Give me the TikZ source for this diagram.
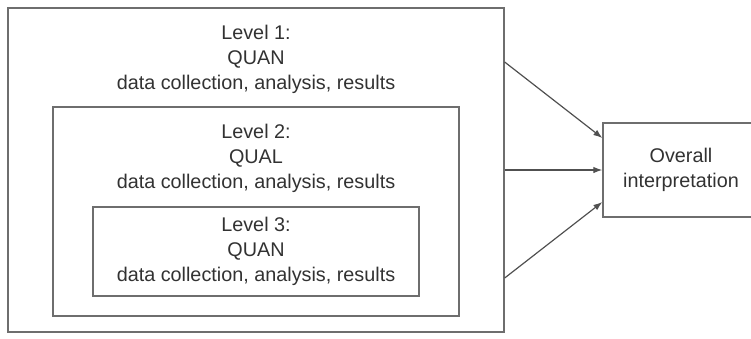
\documentclass[tikz,border=0pt]{standalone}
\usepackage{fontspec}
\setmainfont{Liberation Sans}
\usetikzlibrary{positioning}
\usetikzlibrary{calc}
\usetikzlibrary{arrows.meta}
\definecolor{boxgray}{RGB}{110,110,110}
\definecolor{arrowgray}{RGB}{80,80,80}
\definecolor{textgray}{RGB}{50,50,50}

\begin{document}
\begin{tikzpicture}[x=1pt, y=-1pt, node distance=18pt,
    every node/.style={align=center, font=\fontsize{19.8pt}{25pt}\selectfont, text=textgray},
    levbox/.style={draw=boxgray, line width=1.3pt, inner sep=0pt},
    levtext/.style={inner sep=0pt},
    flow/.style={draw=arrowgray, line width=1.2pt, -{Latex[length=9pt,width=6.5pt]}}]

        \useasboundingbox (0,0) rectangle (751,338);

        % Nested level boxes
        \node[levbox, minimum width=496pt, minimum height=324pt] (quanOne) at (256,170) {};
        \node[levtext, below=of quanOne.north] (quanOneText) {Level 1:\\QUAN\\data collection, analysis, results};

        \node[levbox, minimum width=406pt, minimum height=209pt] (qualTwo) at (256,211.5) {};
        \node[levtext, below=of qualTwo.north] (qualTwoText) {Level 2:\\QUAL\\data collection, analysis, results};

        \node[levbox, minimum width=326pt, minimum height=89pt] (quanThree) at (256,251.5) {%
            Level 3:\\QUAN\\data collection, analysis, results};

        % Result box
        \node[levbox, minimum width=156pt, minimum height=94pt] (interpBox) at (681,170) {%
            Overall\\interpretation};

        % Arrows
        \draw[flow] ([yshift=108pt]quanOne.east) -- ([yshift=32pt]interpBox.west);
        \draw[flow] (quanOne.east) -- (interpBox.west);
        \draw[flow] ([yshift=-108pt]quanOne.east) -- ([yshift=-32pt]interpBox.west);

    \end{tikzpicture}
\end{document}
